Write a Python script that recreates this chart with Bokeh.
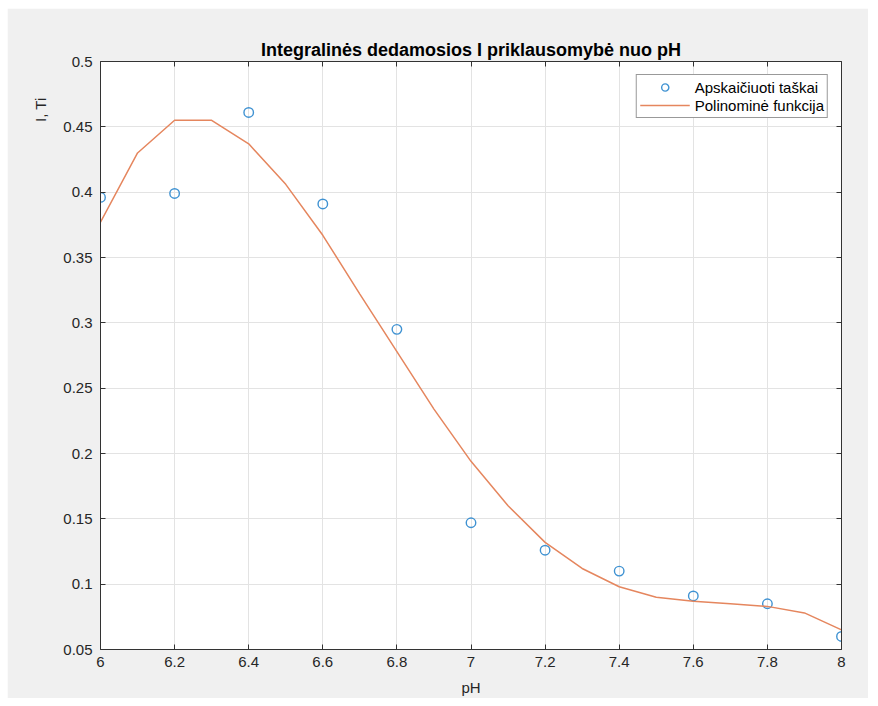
from bokeh.embed import file_html
from bokeh.layouts import column, row
from bokeh.models import (ColumnDataSource, CustomLabelingPolicy, FixedTicker,
                          Legend, LegendItem, LinearAxis, Range1d, Spacer, Title)
from bokeh.plotting import figure
from bokeh.resources import INLINE

# Computed points: integral component I versus pH
ph_points = [6.0, 6.2, 6.4, 6.6, 6.8, 7.0, 7.2, 7.4, 7.6, 7.8, 8.0]
i_points = [0.396, 0.399, 0.461, 0.391, 0.295, 0.147, 0.126, 0.110, 0.091, 0.085, 0.060]

# Polynomial fit evaluated on a 0.1 pH grid
ph_fit = [6.0, 6.1, 6.2, 6.3, 6.4, 6.5, 6.6, 6.7, 6.8, 6.9, 7.0,
          7.1, 7.2, 7.3, 7.4, 7.5, 7.6, 7.7, 7.8, 7.9, 8.0]
i_fit = [0.377, 0.430, 0.455, 0.455, 0.437, 0.406, 0.367, 0.322, 0.278, 0.234, 0.194,
         0.160, 0.132, 0.112, 0.098, 0.090, 0.087, 0.085, 0.083, 0.078, 0.065]

x_ticks = [6, 6.2, 6.4, 6.6, 6.8, 7, 7.2, 7.4, 7.6, 7.8, 8]
x_tick_labels = ["6", "6.2", "6.4", "6.6", "6.8", "7", "7.2", "7.4", "7.6", "7.8", "8"]
y_ticks = [0.05, 0.1, 0.15, 0.2, 0.25, 0.3, 0.35, 0.4, 0.45, 0.5]
y_tick_labels = ["0.05", "0.1", "0.15", "0.2", "0.25", "0.3", "0.35", "0.4", "0.45", "0.5"]

title_text = "Integralinės dedamosios I priklausomybė nuo pH"
x_label = "pH"
y_label = "I, Ti"
legend_points = "Apskaičiuoti taškai"
legend_fit = "Polinominė funkcija"

FONT = "Liberation Sans"
AXIS_COLOR = "#333333"
TEXT_COLOR = "#262626"
GRID_COLOR = "#e3e3e3"
BLUE = "#3f92d2"
ORANGE = "#e5865e"

pts = ColumnDataSource(data=dict(x=ph_points, y=i_points))
fit = ColumnDataSource(data=dict(x=ph_fit, y=i_fit))

p = figure(
    width=861, height=690,
    x_range=Range1d(6, 8), y_range=Range1d(0.05, 0.5),
    output_backend="svg", toolbar_location=None,
    min_border_left=93, min_border_right=27,
    min_border_top=53, min_border_bottom=48,
    border_fill_color="#f0f0f0", background_fill_color="white",
    outline_line_color=None,
)
p.xaxis.visible = False
p.yaxis.visible = False

xt = FixedTicker(ticks=x_ticks)
yt = FixedTicker(ticks=y_ticks)

# the mirrored top/right axes carry tick marks only
no_labels = CustomLabelingPolicy(code="""
    const n = indices.size
    for (let i = 0; i < n; i++) indices.unset(i)
    return indices
""")


def style_axis(ax, ticker, labels, show_labels, standoff):
    ax.ticker = ticker
    ax.major_label_overrides = {t: s for t, s in zip(ticker.ticks, labels)}
    ax.axis_line_color = AXIS_COLOR
    ax.axis_line_width = 1
    ax.major_tick_line_color = AXIS_COLOR
    ax.major_tick_in = 5
    ax.major_tick_out = 0
    ax.minor_tick_line_color = None
    ax.major_label_standoff = standoff
    ax.major_label_text_font = FONT
    ax.major_label_text_color = TEXT_COLOR
    if show_labels:
        ax.major_label_text_font_size = "15px"
    else:
        ax.major_label_text_font_size = "0px"
        ax.major_label_policy = no_labels


bottom = LinearAxis(axis_label=x_label, axis_label_standoff=9,
                    axis_label_text_font=FONT, axis_label_text_font_size="15px",
                    axis_label_text_font_style="normal", axis_label_text_color=TEXT_COLOR)
style_axis(bottom, xt, x_tick_labels, True, 7)
top = LinearAxis()
style_axis(top, xt, x_tick_labels, False, 0)
left = LinearAxis()
style_axis(left, yt, y_tick_labels, True, 8)
right = LinearAxis()
style_axis(right, yt, y_tick_labels, False, 0)
p.add_layout(bottom, "below")
p.add_layout(top, "above")
p.add_layout(left, "left")
p.add_layout(right, "right")

p.xgrid.ticker = xt
p.ygrid.ticker = yt
for g in (p.xgrid, p.ygrid):
    g.grid_line_color = GRID_COLOR
    g.grid_line_width = 1

r_pts = p.scatter("x", "y", source=pts, marker="circle", size=9.5,
                  fill_color=None, line_color=BLUE, line_width=1.4)
r_fit = p.line("x", "y", source=fit, line_color=ORANGE, line_width=1.5)

legend = Legend(
    items=[LegendItem(label=legend_points, renderers=[r_pts]),
           LegendItem(label=legend_fit, renderers=[r_fit])],
    location="top_right", margin=13, padding=3, spacing=0,
    glyph_width=50, glyph_height=18, label_height=18, label_standoff=5,
    label_text_font=FONT, label_text_font_size="15px", label_text_color="#000000",
    border_line_color=AXIS_COLOR, border_line_width=1,
    background_fill_color="white", background_fill_alpha=1.0,
)
p.add_layout(legend)

# Chart title above the frame
p.title.text = title_text
p.title.align = "center"
p.title.offset = 8
p.title.text_font = FONT
p.title.text_font_style = "bold"
p.title.text_font_size = "18px"
p.title.text_color = "#000000"
p.title.standoff = 4

# Y caption sits near the top of the left side
p.add_layout(Title(text=y_label, align="right", offset=36, standoff=24,
                   text_font=FONT, text_font_size="15px", text_font_style="normal",
                   text_color=TEXT_COLOR), "left")

page = column(Spacer(height=8), row(Spacer(width=7), p))
open("out.html", "w").write(file_html(page, INLINE))
